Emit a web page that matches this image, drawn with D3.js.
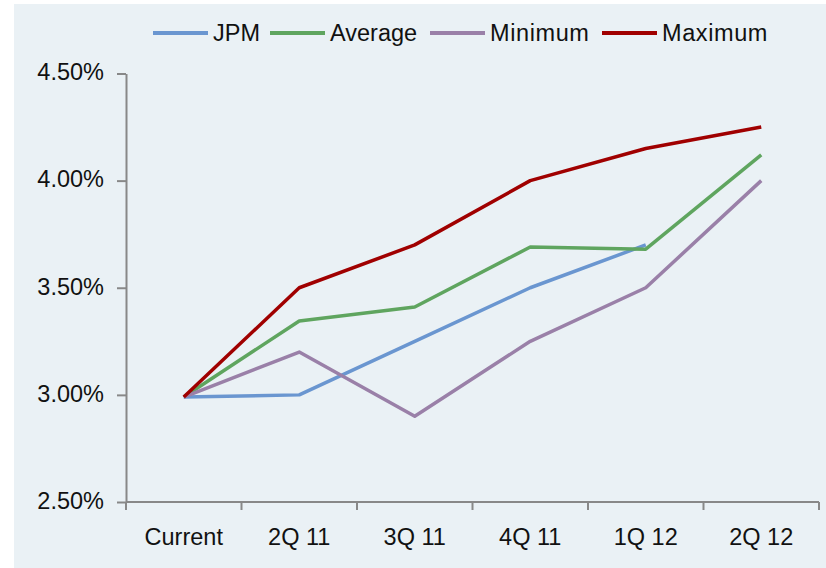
<!DOCTYPE html>
<html>
<head>
  <meta charset="utf-8">
  <title>Rate forecasts</title>
<style>
body {
  margin: 0;
  background: #fff;
}

text {
  font-family: Arial, "Liberation Sans", sans-serif;
  font-size: 23.5px;
  fill: #111;
}

.axis path, .axis line {
  stroke: #888;
  stroke-width: 2px;
}

.series {
  fill: none;
  stroke-width: 3.5px;
  stroke-linejoin: round;
}
</style>
</head>
<body>
  <svg id="chart" width="826" height="568"></svg>
  <script src="https://cdn.jsdelivr.net/npm/d3@7"></script>
  <script>

// values, in percent
var categories = ["Current", "2Q 11", "3Q 11", "4Q 11", "1Q 12", "2Q 12"];
var jpm     = [2.99, 3.00, 3.25, 3.50, 3.70];   // no 2Q 12 value
var average = [2.99, 3.345, 3.41, 3.69, 3.68, 4.12];
var minimum = [2.99, 3.20, 2.90, 3.25, 3.50, 4.00];
var maximum = [2.99, 3.50, 3.70, 4.00, 4.15, 4.25];
var yTicks  = [2.5, 3.0, 3.5, 4.0, 4.5];

var seriesNames  = ["JPM", "Average", "Minimum", "Maximum"];
var seriesColors = ["#6a96d0", "#5fa55f", "#9a80a8", "#a00000"];
var seriesValues = [jpm, average, minimum, maximum];

var svg = d3.select("svg#chart"),
    width = +svg.attr("width"),
    height = +svg.attr("height");

// chart background panel
svg.append("rect")
  .attr("x", 14).attr("y", 4)
  .attr("width", width - 14).attr("height", height - 4)
  .attr("fill", "#eaf1f5");

var plot = {left: 126, right: 819, top: 73.5, bottom: 502};

var x = d3.scaleBand()
  .domain(categories)
  .range([plot.left, plot.right]);

var y = d3.scaleLinear()
  .domain([2.5, 4.5])
  .range([plot.bottom, plot.top]);

// y axis
var yAxis = svg.append("g")
  .attr("class", "axis")
  .attr("transform", "translate(" + plot.left + ",0)")
  .call(d3.axisLeft(y)
    .tickValues(yTicks)
    .tickSize(9)
    .tickSizeOuter(0)
    .tickPadding(13)
    .tickFormat(function (d) { return d.toFixed(2) + "%"; }));
yAxis.selectAll("text").attr("dy", "0.27em");

// x axis: ticks sit on the band edges, labels in the band centres
var xAxis = svg.append("g")
  .attr("class", "axis")
  .attr("transform", "translate(0," + plot.bottom + ")");
xAxis.append("line")
  .attr("x1", plot.left).attr("x2", plot.right);
xAxis.selectAll(".edge")
  .data(categories.map(function (c) { return x(c); }).concat([plot.right]))
  .enter().append("line")
  .attr("class", "edge")
  .attr("x1", function (d) { return d; })
  .attr("x2", function (d) { return d; })
  .attr("y1", 0).attr("y2", 8);
xAxis.selectAll(".label")
  .data(categories)
  .enter().append("text")
  .attr("class", "label")
  .attr("x", function (c) { return x(c) + x.bandwidth() / 2; })
  .attr("y", 43)
  .attr("text-anchor", "middle")
  .text(function (c) { return c; });

// lines
var line = d3.line()
  .x(function (d, i) { return x(categories[i]) + x.bandwidth() / 2; })
  .y(function (d) { return y(d); });

svg.append("g").selectAll(".series")
  .data(seriesValues)
  .enter().append("path")
  .attr("class", "series")
  .attr("stroke", function (d, i) { return seriesColors[i]; })
  .attr("d", line);

// legend along the top (item offsets match the original spacing)
var legendX = [0, 117, 277, 449];
var legend = svg.append("g").attr("transform", "translate(153,33)");
seriesNames.forEach(function (name, i) {
  legend.append("line")
    .attr("x1", legendX[i]).attr("x2", legendX[i] + 55)
    .attr("stroke", seriesColors[i])
    .attr("stroke-width", 4);
  legend.append("text")
    .attr("x", legendX[i] + 60)
    .attr("dy", "0.35em")
    .style("letter-spacing", i >= 2 ? "0.6px" : null)
    .text(name);
});

  </script>
</body>
</html>
